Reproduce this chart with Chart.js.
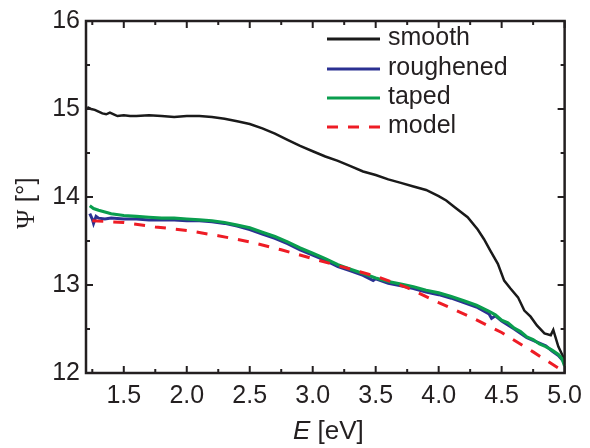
<!DOCTYPE html>
<html>
<head>
<meta charset="utf-8">
<script src="https://cdn.jsdelivr.net/npm/chart.js@4"></script>
<style>
  html, body { margin: 0; padding: 0; background: #fff; }
  #wrap { width: 590px; height: 448px; }
</style>
</head>
<body>
<div id="wrap"><canvas id="chart" width="590" height="448"></canvas></div>
<script>
// axis ranges and ticks
const xMin = 1.2, xMax = 5.0;
const yMin = 12, yMax = 16;
const xTicks = [1.5, 2.0, 2.5, 3.0, 3.5, 4.0, 4.5, 5.0];
const xMinorTicks = [1.25, 1.75, 2.25, 2.75, 3.25, 3.75, 4.25, 4.75];
const yTicks = [12, 13, 14, 15, 16];
const yMinorTicks = [12.5, 13.5, 14.5, 15.5];

const seriesNames = ['smooth', 'roughened', 'taped', 'model'];

// smooth sample
const smoothE = [1.21, 1.24, 1.27, 1.30, 1.33, 1.36, 1.39, 1.42, 1.45, 1.50, 1.55, 1.60, 1.70, 1.80, 1.90, 2.00,
  2.10, 2.20, 2.30, 2.40, 2.50, 2.60, 2.70, 2.80, 2.90, 3.00, 3.10, 3.20, 3.30, 3.40, 3.50, 3.60, 3.70, 3.80,
  3.90, 4.00, 4.06, 4.13, 4.23, 4.31, 4.36, 4.41, 4.47, 4.52, 4.57, 4.63, 4.68, 4.73, 4.78, 4.84, 4.89, 4.91,
  4.95, 5.00];
const smoothPsi = [15.02, 15.00, 14.99, 14.97, 14.95, 14.94, 14.96, 14.94, 14.92, 14.93, 14.92, 14.92, 14.93, 14.92,
  14.91, 14.92, 14.92, 14.91, 14.89, 14.86, 14.83, 14.78, 14.72, 14.65, 14.58, 14.52, 14.46, 14.41, 14.35, 14.29,
  14.25, 14.20, 14.16, 14.12, 14.08, 14.01, 13.96, 13.88, 13.77, 13.63, 13.52, 13.39, 13.24, 13.05, 12.96, 12.86,
  12.71, 12.64, 12.54, 12.45, 12.43, 12.49, 12.30, 12.15];

// roughened sample
const roughE = [1.23, 1.25, 1.26, 1.28, 1.30, 1.35, 1.40, 1.50, 1.60, 1.70, 1.80, 1.90, 2.00, 2.10, 2.20, 2.30,
  2.40, 2.50, 2.60, 2.70, 2.80, 2.90, 3.00, 3.10, 3.20, 3.30, 3.40, 3.48, 3.50, 3.60, 3.70, 3.80, 3.90, 4.00,
  4.10, 4.20, 4.30, 4.40, 4.42, 4.45, 4.50, 4.60, 4.70, 4.80, 4.85, 4.90, 4.95, 5.00];
const roughPsi = [13.81, 13.75, 13.70, 13.78, 13.76, 13.75, 13.76, 13.75, 13.75, 13.74, 13.74, 13.74, 13.73, 13.73,
  13.72, 13.70, 13.67, 13.63, 13.58, 13.53, 13.47, 13.40, 13.34, 13.28, 13.21, 13.16, 13.11, 13.05, 13.07, 13.02,
  12.99, 12.96, 12.92, 12.89, 12.85, 12.80, 12.75, 12.67, 12.62, 12.65, 12.59, 12.50, 12.40, 12.34, 12.31, 12.25,
  12.20, 12.12];

// taped sample
const tapedE = [1.23, 1.26, 1.30, 1.35, 1.40, 1.50, 1.60, 1.70, 1.80, 1.90, 2.00, 2.10, 2.20, 2.30, 2.40, 2.50,
  2.60, 2.70, 2.80, 2.90, 3.00, 3.10, 3.20, 3.30, 3.40, 3.50, 3.60, 3.70, 3.80, 3.90, 4.00, 4.10, 4.20, 4.30,
  4.40, 4.45, 4.50, 4.55, 4.60, 4.65, 4.70, 4.75, 4.80, 4.85, 4.90, 4.95, 4.98, 5.00];
const tapedPsi = [13.90, 13.87, 13.85, 13.83, 13.81, 13.79, 13.78, 13.77, 13.76, 13.76, 13.75, 13.74, 13.73, 13.71,
  13.68, 13.65, 13.60, 13.55, 13.49, 13.42, 13.36, 13.30, 13.23, 13.18, 13.13, 13.08, 13.04, 13.01, 12.98, 12.94,
  12.91, 12.87, 12.82, 12.77, 12.70, 12.66, 12.60, 12.57, 12.51, 12.47, 12.41, 12.38, 12.33, 12.30, 12.26, 12.21,
  12.16, 12.08];

// model curve
const modelE = [1.25, 1.50, 1.75, 2.00, 2.25, 2.50, 2.75, 3.00, 3.25, 3.50, 3.75, 4.00, 4.25, 4.50, 4.75, 5.00];
const modelPsi = [13.73, 13.71, 13.66, 13.62, 13.56, 13.49, 13.40, 13.30, 13.20, 13.10, 12.97, 12.80, 12.64,
  12.46, 12.24, 12.01];

const colors = ['#1a1a1a', '#2b3192', '#0a9e4e', '#ee1c25'];
const FONT = '"Liberation Sans", Arial, sans-serif';

function pts(xs, ys) {
  return xs.map((x, i) => ({ x: x, y: ys[i] }));
}

// frame with inward ticks on all four sides
const framePlugin = {
  id: 'frame',
  afterDatasetsDraw(chart) {
    const { ctx, chartArea: a, scales: { x, y } } = chart;
    ctx.save();
    ctx.strokeStyle = '#231f20';
    ctx.lineWidth = 2;
    ctx.beginPath();
    xTicks.forEach(v => {
      const px = x.getPixelForValue(v);
      ctx.moveTo(px, a.bottom); ctx.lineTo(px, a.bottom - 7);
      ctx.moveTo(px, a.top); ctx.lineTo(px, a.top + 7);
    });
    xMinorTicks.forEach(v => {
      const px = x.getPixelForValue(v);
      ctx.moveTo(px, a.bottom); ctx.lineTo(px, a.bottom - 4);
      ctx.moveTo(px, a.top); ctx.lineTo(px, a.top + 4);
    });
    yTicks.forEach(v => {
      const py = y.getPixelForValue(v);
      ctx.moveTo(a.left, py); ctx.lineTo(a.left + 7, py);
      ctx.moveTo(a.right, py); ctx.lineTo(a.right - 7, py);
    });
    yMinorTicks.forEach(v => {
      const py = y.getPixelForValue(v);
      ctx.moveTo(a.left, py); ctx.lineTo(a.left + 4, py);
      ctx.moveTo(a.right, py); ctx.lineTo(a.right - 4, py);
    });
    ctx.stroke();
    ctx.lineWidth = 2.5;
    ctx.strokeRect(a.left, a.top, a.right - a.left, a.bottom - a.top);
    ctx.restore();
  }
};

// axis titles (italic E, serif Psi)
const titlePlugin = {
  id: 'titles',
  afterDraw(chart) {
    const { ctx, chartArea: a } = chart;
    ctx.save();
    ctx.fillStyle = '#231f20';
    ctx.textBaseline = 'alphabetic';
    // x title
    const fE = 'italic 26px ' + FONT, fR = '26px ' + FONT;
    ctx.font = fE; const wE = ctx.measureText('E').width;
    ctx.font = fR; const wR = ctx.measureText(' [eV]').width;
    let sx = (a.left + a.right) / 2 + 3 - (wE + wR) / 2;
    ctx.font = fE; ctx.fillText('E', sx, 439);
    ctx.font = fR; ctx.fillText(' [eV]', sx + wE, 439);
    // y title
    ctx.translate(34, (a.top + a.bottom) / 2 + 6);
    ctx.rotate(-Math.PI / 2);
    const fP = '26px "Liberation Serif", "Times New Roman", serif';
    ctx.font = fP; const wP = ctx.measureText('\u03A8').width;
    ctx.font = fR; const wB = ctx.measureText(' [\u00B0]').width;
    const s0 = -(wP + wB) / 2;
    ctx.font = fP; ctx.fillText('\u03A8', s0, 0);
    ctx.font = fR; ctx.fillText(' [\u00B0]', s0 + wP, 0);
    ctx.restore();
  }
};

// legend inside the plot, upper right
const legendPlugin = {
  id: 'insideLegend',
  afterDraw(chart) {
    const { ctx } = chart;
    const rows = [39, 69, 98, 127];
    ctx.save();
    ctx.font = '25px ' + FONT;
    ctx.textBaseline = 'middle';
    ctx.fillStyle = '#231f20';
    chart.data.datasets.forEach((ds, i) => {
      const yy = rows[i];
      ctx.strokeStyle = ds.borderColor;
      ctx.lineWidth = 3;
      ctx.setLineDash(ds.borderDash || []);
      ctx.beginPath();
      ctx.moveTo(327, yy); ctx.lineTo(380, yy);
      ctx.stroke();
      ctx.setLineDash([]);
      ctx.fillText(ds.label, 388, yy - 1);
    });
    ctx.restore();
  }
};

const chart = new Chart(document.getElementById('chart').getContext('2d'), {
  type: 'line',
  data: {
    datasets: [
      { label: seriesNames[0], data: pts(smoothE, smoothPsi), borderColor: colors[0], borderWidth: 2.5, order: 3 },
      { label: seriesNames[1], data: pts(roughE, roughPsi), borderColor: colors[1], borderWidth: 3, order: 2 },
      { label: seriesNames[2], data: pts(tapedE, tapedPsi), borderColor: colors[2], borderWidth: 3.2, order: 1 },
      { label: seriesNames[3], data: pts(modelE, modelPsi), borderColor: colors[3], borderWidth: 3,
        borderDash: [11, 10], order: 0 }
    ]
  },
  options: {
    responsive: false,
    animation: false,
    parsing: true,
    layout: { padding: { top: 19, right: 22, left: 0, bottom: 0 } },
    elements: { point: { radius: 0 }, line: { tension: 0, fill: false } },
    plugins: { legend: { display: false }, tooltip: { enabled: false } },
    scales: {
      x: {
        type: 'linear', min: xMin, max: xMax,
        grid: { display: false, drawTicks: false },
        border: { display: false },
        afterBuildTicks: s => { s.ticks = xTicks.map(v => ({ value: v })); },
        afterFit: s => { s.height = 75; },
        ticks: { color: '#231f20', font: { family: FONT, size: 25 }, padding: 8, maxRotation: 0,
          callback: v => Number(v).toFixed(1) }
      },
      y: {
        type: 'linear', min: yMin, max: yMax,
        grid: { display: false, drawTicks: false },
        border: { display: false },
        afterBuildTicks: s => { s.ticks = yTicks.map(v => ({ value: v })); },
        afterFit: s => { s.width = 86; },
        ticks: { color: '#231f20', font: { family: FONT, size: 25 }, padding: 6,
          callback: v => String(v) }
      }
    }
  },
  plugins: [framePlugin, titlePlugin, legendPlugin]
});
</script>
</body>
</html>
